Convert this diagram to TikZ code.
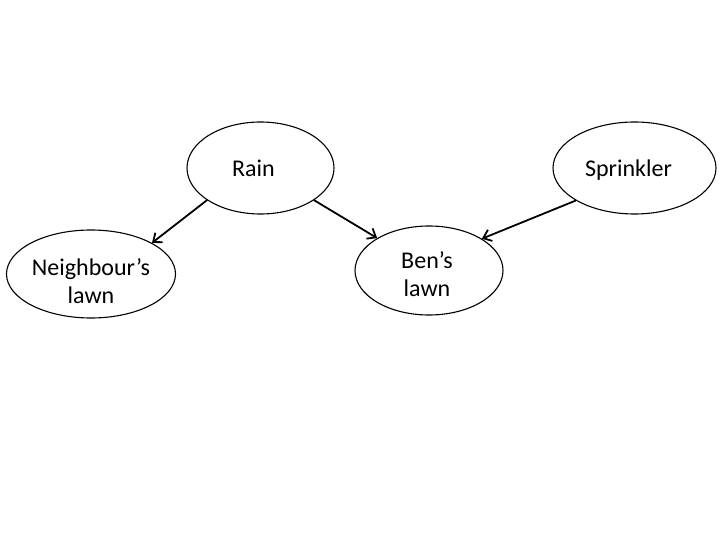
\documentclass[tikz,border=0pt]{standalone}
\usepackage{fontspec}
\setmainfont{Carlito}
\usetikzlibrary{shapes.geometric,arrows.meta}
\begin{document}
\begin{tikzpicture}[x=1bp, y=-1bp, line join=round, line cap=round,
	font=\fontsize{24bp}{28bp}\selectfont,
	var/.style={ellipse, draw, line width=1.1bp, inner sep=0pt},
	txt/.style={align=center},
	edge/.style={line width=1.8bp, -{Straight Barb[length=7.5bp,width=12bp,line width=1.8bp]}}]%Bayesnet
	\useasboundingbox (0,0) rectangle (720,540);
	\node[var, minimum width=147bp, minimum height=92bp, label={[txt, xshift=-7bp]center:Rain}] (rain) at (260.5,168) {};
	\node[var, minimum width=163bp, minimum height=92bp, label={[txt, xshift=-6bp, yshift=-2bp]center:Sprinkler}] (sprinkler) at (634.5,168) {};
	\node[var, minimum width=169bp, minimum height=88bp, label={[txt, yshift=-7bp]center:Neighbour’s\\lawn}] (neighbour) at (91,274) {};
	\node[var, minimum width=148bp, minimum height=89bp, label={[txt, xshift=-2bp, yshift=-4bp]center:Ben’s\\lawn}] (ben) at (429,270.5) {};
	\draw[edge] (rain.211) -- (neighbour.27);
	\draw[edge] (rain.329) -- (ben.148);
	\draw[edge] (sprinkler.209) -- (ben.31);
\end{tikzpicture}
\end{document}
